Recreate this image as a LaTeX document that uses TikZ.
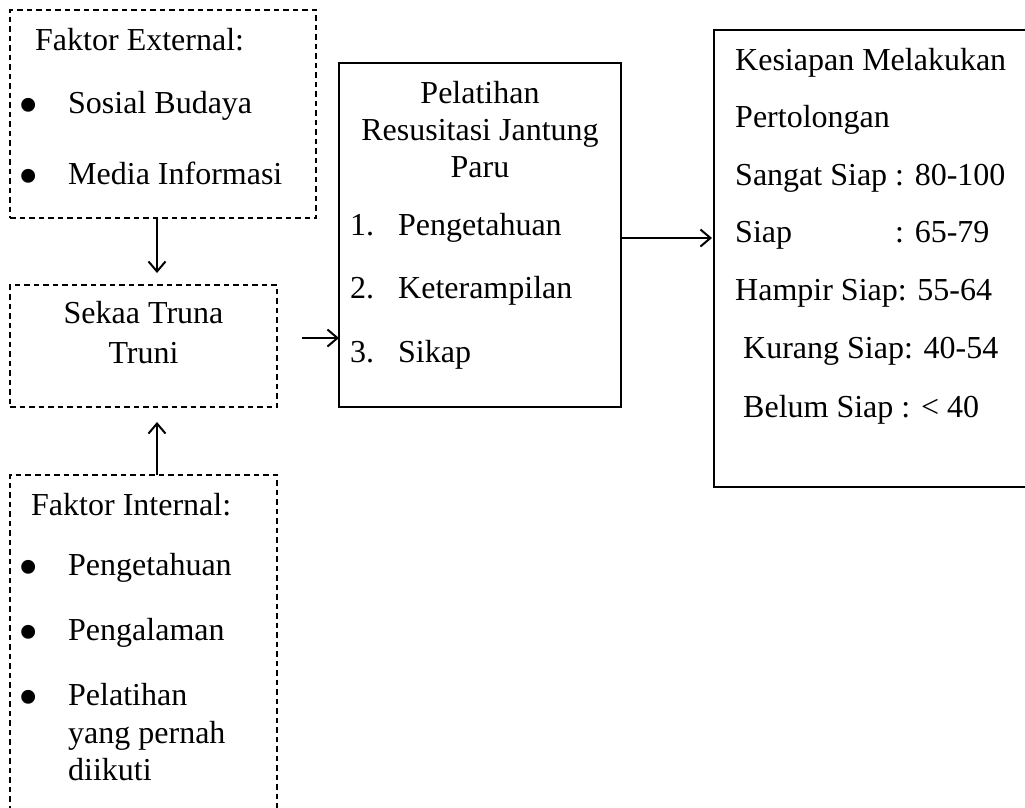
\documentclass[tikz,border=0pt]{standalone}
\usepackage{fontspec}
\setmainfont{Liberation Serif}
\usetikzlibrary{arrows.meta}
\begin{document}
\begin{tikzpicture}[x=1pt,y=-1pt,
  dbox/.style={draw,line width=1.4pt,dash pattern=on 5.5pt off 4pt,rectangle,inner sep=0pt,outer sep=0pt},
  sbox/.style={draw,line width=1.8pt,rectangle,inner sep=0pt,outer sep=0pt},
  txt/.style={inner sep=0pt,anchor=base west,font=\fontsize{32}{38}\selectfont},
  ctxt/.style={inner sep=0pt,anchor=base,font=\fontsize{32}{38}\selectfont},
  bul/.style={inner sep=0pt,anchor=center,font=\fontsize{58}{60}\selectfont},
  arr/.style={line width=2pt,-{Straight Barb[length=10pt,width=17pt,line width=2pt]}}]
\clip (0,0) rectangle (1025,807);
\fill[white] (0,0) rectangle (1025,807);
% boxes
\node[dbox,minimum width=306,minimum height=208] (ext) at (163,114) {};
\node[dbox,minimum width=267,minimum height=122] (sek) at (143.5,346) {};
\draw[line width=1.4pt,dash pattern=on 5.5pt off 4pt] (10,830) -- (10,475) -- (277,475) -- (277,830);
\coordinate (intTop) at (157,475);
\node[sbox,minimum width=282,minimum height=344] (pel) at (480,235) {};
\node[sbox,minimum width=330,minimum height=457] (kes) at (879,258.5) {};
% external texts
\node[txt] (e0) at (35,50) {Faktor External:};
\node[bul] (e1b) at (28.5,111) {\textbullet};
\node[txt] (e1) at (68,113) {Sosial Budaya};
\node[bul] (e2b) at (28.5,182) {\textbullet};
\node[txt] (e2) at (68,184) {Media Informasi};
% sekaa
\node[ctxt] (s1) at (143.5,323) {Sekaa Truna};
\node[ctxt] (s2) at (143.5,363) {Truni};
% internal
\node[txt] (i0) at (31,515) {Faktor Internal:};
\node[bul] (i1b) at (28.5,573) {\textbullet};
\node[txt] (i1) at (68,575) {Pengetahuan};
\node[bul] (i2b) at (28.5,638) {\textbullet};
\node[txt] (i2) at (68,640) {Pengalaman};
\node[bul] (i3b) at (28.5,703) {\textbullet};
\node[txt] (i3) at (68,705) {Pelatihan};
\node[txt] (i4) at (68,743) {yang pernah};
\node[txt] (i5) at (68,780) {diikuti};
% pelatihan
\node[ctxt] (p0) at (480,103) {Pelatihan};
\node[ctxt] (p1) at (480,140) {Resusitasi Jantung};
\node[ctxt] (p2) at (480,177) {Paru};
\node[txt] (p3n) at (350,235) {1.};
\node[txt] (p3) at (398,235) {Pengetahuan};
\node[txt] (p4n) at (350,298) {2.};
\node[txt] (p4) at (398,298) {Keterampilan};
\node[txt] (p5n) at (350,362) {3.};
\node[txt] (p5) at (398,362) {Sikap};
% kesiapan
\node[txt] (k0) at (735,70) {Kesiapan Melakukan};
\node[txt] (k1) at (735,127) {Pertolongan};
\node[txt] (k2) at (735,185) {Sangat Siap : 80-100};
\node[txt] (k3) at (735,242) {Siap};
\node[txt] (k3v) at (895,242) {: 65-79};
\node[txt] (k4) at (735,300) {Hampir Siap: 55-64};
\node[txt] (k5) at (743,358) {Kurang Siap: 40-54};
\node[txt] (k6) at (743,417) {Belum Siap : < 40};
% connectors
\draw[arr,shorten >=12pt] (ext.south -| intTop) -- (sek.north -| intTop);
\draw[arr,shorten >=15pt] (intTop) -- (sek.south -| intTop);
\draw[arr,shorten <=25pt] (sek.east |- 0,338) -- (pel.west |- 0,338);
\draw[arr,shorten >=2pt] (pel.east |- 0,238) -- (kes.west |- 0,238);
\end{tikzpicture}
\end{document}
